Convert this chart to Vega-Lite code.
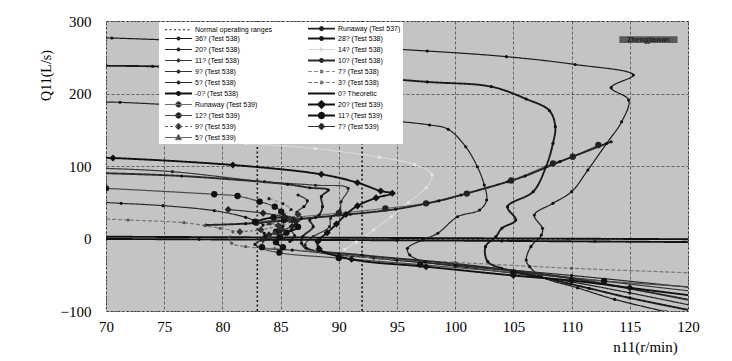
{
  "$schema": "https://vega.github.io/schema/vega-lite/v6.json",
  "width": 582,
  "height": 290,
  "autosize": {"type": "none"},
  "padding": {"left": 106, "top": 21, "right": 44, "bottom": 50},
  "background": "white",
  "config": {
    "view": {"fill": "#c4c4c4", "stroke": "#444", "strokeDash": [2, 2], "strokeWidth": 1},
    "axis": {
      "labelFont": "Liberation Serif", "labelFontSize": 15, "labelColor": "#000",
      "titleFont": "Liberation Serif", "titleFontWeight": "normal", "titleColor": "#000",
      "domain": false, "ticks": false, "grid": true,
      "gridColor": "#333", "gridDash": [3, 2], "gridWidth": 0.8, "gridOpacity": 0.85
    }
  },
  "datasets": {
    "ranges": [
      {"s": "Normal operating ranges", "x": 83},
      {"s": "Normal operating ranges", "x": 92}
    ],
    "label": [
      {"x": 114.1, "x2": 119.1, "y": 269.7, "y2": 279, "tx": 116.6, "ty": 274.3, "t": "Zhengjiawan"}
    ],
    "curves": [
      {"s": "Runaway (Test 537)", "i": 0, "x": 78.6, "y": 18.6},
      {"s": "Runaway (Test 537)", "i": 1, "x": 82, "y": 20.5},
      {"s": "Runaway (Test 537)", "i": 2, "x": 85.5, "y": 25},
      {"s": "Runaway (Test 537)", "i": 3, "x": 88, "y": 29},
      {"s": "Runaway (Test 537)", "i": 4, "x": 91, "y": 33.5},
      {"s": "Runaway (Test 537)", "i": 5, "x": 94.9, "y": 40.5},
      {"s": "Runaway (Test 537)", "i": 6, "x": 98.6, "y": 52},
      {"s": "Runaway (Test 537)", "i": 7, "x": 100.5, "y": 60},
      {"s": "Runaway (Test 537)", "i": 8, "x": 104.5, "y": 78.3},
      {"s": "Runaway (Test 537)", "i": 9, "x": 106, "y": 86.2},
      {"s": "Runaway (Test 537)", "i": 10, "x": 109, "y": 106},
      {"s": "Runaway (Test 537)", "i": 11, "x": 113.4, "y": 133.5},

      {"s": "36? (Test 538)", "i": 0, "x": 69.5, "y": 276.7},
      {"s": "36? (Test 538)", "i": 1, "x": 70.5, "y": 276.5},
      {"s": "36? (Test 538)", "i": 2, "x": 80, "y": 271},
      {"s": "36? (Test 538)", "i": 3, "x": 90, "y": 265},
      {"s": "36? (Test 538)", "i": 4, "x": 97.6, "y": 258.6},
      {"s": "36? (Test 538)", "i": 5, "x": 104.4, "y": 250.8},
      {"s": "36? (Test 538)", "i": 6, "x": 110.3, "y": 240},
      {"s": "36? (Test 538)", "i": 7, "x": 115.3, "y": 225.5},
      {"s": "36? (Test 538)", "i": 8, "x": 113.4, "y": 208},
      {"s": "36? (Test 538)", "i": 9, "x": 114.9, "y": 191},
      {"s": "36? (Test 538)", "i": 10, "x": 114.3, "y": 161},
      {"s": "36? (Test 538)", "i": 11, "x": 113, "y": 131},
      {"s": "36? (Test 538)", "i": 12, "x": 111.4, "y": 94.5},
      {"s": "36? (Test 538)", "i": 13, "x": 110, "y": 64.6},
      {"s": "36? (Test 538)", "i": 14, "x": 108.4, "y": 48.5},
      {"s": "36? (Test 538)", "i": 15, "x": 106.8, "y": 32.4},
      {"s": "36? (Test 538)", "i": 16, "x": 107.5, "y": 14},
      {"s": "36? (Test 538)", "i": 17, "x": 107.4, "y": 4.8},
      {"s": "36? (Test 538)", "i": 18, "x": 106.5, "y": -11.3},
      {"s": "36? (Test 538)", "i": 19, "x": 106.1, "y": -29.7},
      {"s": "36? (Test 538)", "i": 20, "x": 106.4, "y": -38.9},
      {"s": "36? (Test 538)", "i": 21, "x": 107.4, "y": -52.7},
      {"s": "36? (Test 538)", "i": 22, "x": 110.5, "y": -68},
      {"s": "36? (Test 538)", "i": 23, "x": 113.7, "y": -84},
      {"s": "36? (Test 538)", "i": 24, "x": 118.1, "y": -101},

      {"s": "28? (Test 538)", "i": 0, "x": 69.5, "y": 238.2},
      {"s": "28? (Test 538)", "i": 1, "x": 74, "y": 237.5},
      {"s": "28? (Test 538)", "i": 2, "x": 85, "y": 231},
      {"s": "28? (Test 538)", "i": 3, "x": 97.6, "y": 216},
      {"s": "28? (Test 538)", "i": 4, "x": 103.1, "y": 209.4},
      {"s": "28? (Test 538)", "i": 5, "x": 106.1, "y": 192.4},
      {"s": "28? (Test 538)", "i": 6, "x": 108.1, "y": 176.3},
      {"s": "28? (Test 538)", "i": 7, "x": 108.6, "y": 154.2},
      {"s": "28? (Test 538)", "i": 8, "x": 108.4, "y": 131.3},
      {"s": "28? (Test 538)", "i": 9, "x": 107.8, "y": 99},
      {"s": "28? (Test 538)", "i": 10, "x": 106.7, "y": 64.6},
      {"s": "28? (Test 538)", "i": 11, "x": 104.5, "y": 43.9},
      {"s": "28? (Test 538)", "i": 12, "x": 105.2, "y": 25.5},
      {"s": "28? (Test 538)", "i": 13, "x": 104, "y": 14},
      {"s": "28? (Test 538)", "i": 14, "x": 103.5, "y": 2.5},
      {"s": "28? (Test 538)", "i": 15, "x": 102.6, "y": -11.3},
      {"s": "28? (Test 538)", "i": 16, "x": 102.8, "y": -32},
      {"s": "28? (Test 538)", "i": 17, "x": 104, "y": -41},
      {"s": "28? (Test 538)", "i": 18, "x": 107.2, "y": -52.7},
      {"s": "28? (Test 538)", "i": 19, "x": 111.5, "y": -68.7},
      {"s": "28? (Test 538)", "i": 20, "x": 115, "y": -82},
      {"s": "28? (Test 538)", "i": 21, "x": 120.5, "y": -100},

      {"s": "20? (Test 538)", "i": 0, "x": 69.5, "y": 188.2},
      {"s": "20? (Test 538)", "i": 1, "x": 71.2, "y": 187.8},
      {"s": "20? (Test 538)", "i": 2, "x": 80, "y": 180},
      {"s": "20? (Test 538)", "i": 3, "x": 90, "y": 168},
      {"s": "20? (Test 538)", "i": 4, "x": 97.8, "y": 156.6},
      {"s": "20? (Test 538)", "i": 5, "x": 99.4, "y": 150.6},
      {"s": "20? (Test 538)", "i": 6, "x": 100.9, "y": 126.6},
      {"s": "20? (Test 538)", "i": 7, "x": 101.9, "y": 99},
      {"s": "20? (Test 538)", "i": 8, "x": 102.5, "y": 73.8},
      {"s": "20? (Test 538)", "i": 9, "x": 102.7, "y": 53.1},
      {"s": "20? (Test 538)", "i": 10, "x": 102.1, "y": 39.3},
      {"s": "20? (Test 538)", "i": 11, "x": 100.2, "y": 30},
      {"s": "20? (Test 538)", "i": 12, "x": 98.5, "y": 7.2},
      {"s": "20? (Test 538)", "i": 13, "x": 97.2, "y": -2},
      {"s": "20? (Test 538)", "i": 14, "x": 95.9, "y": -13.5},
      {"s": "20? (Test 538)", "i": 15, "x": 96.1, "y": -22.8},
      {"s": "20? (Test 538)", "i": 16, "x": 97.4, "y": -32},
      {"s": "20? (Test 538)", "i": 17, "x": 100, "y": -38},
      {"s": "20? (Test 538)", "i": 18, "x": 105, "y": -48},
      {"s": "20? (Test 538)", "i": 19, "x": 110, "y": -60},
      {"s": "20? (Test 538)", "i": 20, "x": 115, "y": -75},
      {"s": "20? (Test 538)", "i": 21, "x": 120.5, "y": -93},

      {"s": "14? (Test 538)", "i": 0, "x": 75, "y": 137},
      {"s": "14? (Test 538)", "i": 1, "x": 82, "y": 131},
      {"s": "14? (Test 538)", "i": 2, "x": 88, "y": 124},
      {"s": "14? (Test 538)", "i": 3, "x": 93.5, "y": 112},
      {"s": "14? (Test 538)", "i": 4, "x": 96.5, "y": 102},
      {"s": "14? (Test 538)", "i": 5, "x": 98, "y": 88},
      {"s": "14? (Test 538)", "i": 6, "x": 97.5, "y": 70},
      {"s": "14? (Test 538)", "i": 7, "x": 96, "y": 50},
      {"s": "14? (Test 538)", "i": 8, "x": 94.5, "y": 30},
      {"s": "14? (Test 538)", "i": 9, "x": 93, "y": 12},
      {"s": "14? (Test 538)", "i": 10, "x": 91.5, "y": -5},
      {"s": "14? (Test 538)", "i": 11, "x": 90.5, "y": -15},

      {"s": "11? (Test 538)", "i": 0, "x": 69.5, "y": 97},
      {"s": "11? (Test 538)", "i": 1, "x": 75.7, "y": 92.2},
      {"s": "11? (Test 538)", "i": 2, "x": 83.6, "y": 78.4},
      {"s": "11? (Test 538)", "i": 3, "x": 88, "y": 73.5},
      {"s": "11? (Test 538)", "i": 4, "x": 90.8, "y": 69.2},
      {"s": "11? (Test 538)", "i": 5, "x": 90.2, "y": 50.8},
      {"s": "11? (Test 538)", "i": 6, "x": 90.1, "y": 39.3},
      {"s": "11? (Test 538)", "i": 7, "x": 89.3, "y": 27.9},
      {"s": "11? (Test 538)", "i": 8, "x": 89.2, "y": 16.3},
      {"s": "11? (Test 538)", "i": 9, "x": 87.8, "y": 2.5},
      {"s": "11? (Test 538)", "i": 10, "x": 87.1, "y": -9},
      {"s": "11? (Test 538)", "i": 11, "x": 88.1, "y": -18.2},
      {"s": "11? (Test 538)", "i": 12, "x": 93, "y": -27},
      {"s": "11? (Test 538)", "i": 13, "x": 100, "y": -37},
      {"s": "11? (Test 538)", "i": 14, "x": 110, "y": -54},
      {"s": "11? (Test 538)", "i": 15, "x": 120.5, "y": -73},

      {"s": "10? (Test 538)", "i": 0, "x": 69.5, "y": 90.2},
      {"s": "10? (Test 538)", "i": 1, "x": 76.5, "y": 86.2},
      {"s": "10? (Test 538)", "i": 2, "x": 85.6, "y": 74.7},
      {"s": "10? (Test 538)", "i": 3, "x": 87.5, "y": 70},
      {"s": "10? (Test 538)", "i": 4, "x": 89.1, "y": 66.9},
      {"s": "10? (Test 538)", "i": 5, "x": 88.5, "y": 57.7},
      {"s": "10? (Test 538)", "i": 6, "x": 88.6, "y": 43.9},
      {"s": "10? (Test 538)", "i": 7, "x": 88.3, "y": 32.4},
      {"s": "10? (Test 538)", "i": 8, "x": 87.5, "y": 25.5},
      {"s": "10? (Test 538)", "i": 9, "x": 87.8, "y": 16.3},
      {"s": "10? (Test 538)", "i": 10, "x": 86.9, "y": 2.5},
      {"s": "10? (Test 538)", "i": 11, "x": 86.8, "y": -6.6},
      {"s": "10? (Test 538)", "i": 12, "x": 87.2, "y": -13.5},
      {"s": "10? (Test 538)", "i": 13, "x": 92, "y": -23},
      {"s": "10? (Test 538)", "i": 14, "x": 100, "y": -35},
      {"s": "10? (Test 538)", "i": 15, "x": 110, "y": -55},
      {"s": "10? (Test 538)", "i": 16, "x": 120.5, "y": -86},

      {"s": "9? (Test 538)", "i": 0, "x": 86.5, "y": 60},
      {"s": "9? (Test 538)", "i": 1, "x": 87.3, "y": 52},
      {"s": "9? (Test 538)", "i": 2, "x": 87, "y": 44},
      {"s": "9? (Test 538)", "i": 3, "x": 86.4, "y": 36},
      {"s": "9? (Test 538)", "i": 4, "x": 86.8, "y": 28},
      {"s": "9? (Test 538)", "i": 5, "x": 86.3, "y": 20},
      {"s": "9? (Test 538)", "i": 6, "x": 85.9, "y": 12},
      {"s": "9? (Test 538)", "i": 7, "x": 86.2, "y": 4},
      {"s": "9? (Test 538)", "i": 8, "x": 85.8, "y": -4},

      {"s": "7? (Test 538)", "i": 0, "x": 84, "y": 55},
      {"s": "7? (Test 538)", "i": 1, "x": 85.2, "y": 48},
      {"s": "7? (Test 538)", "i": 2, "x": 85.9, "y": 40},
      {"s": "7? (Test 538)", "i": 3, "x": 85.3, "y": 33},
      {"s": "7? (Test 538)", "i": 4, "x": 85.8, "y": 24},
      {"s": "7? (Test 538)", "i": 5, "x": 85.2, "y": 17},
      {"s": "7? (Test 538)", "i": 6, "x": 84.8, "y": 8},
      {"s": "7? (Test 538)", "i": 7, "x": 85.2, "y": 0},

      {"s": "5? (Test 538)", "i": 0, "x": 69.5, "y": 50},
      {"s": "5? (Test 538)", "i": 1, "x": 71.3, "y": 48.5},
      {"s": "5? (Test 538)", "i": 2, "x": 74.9, "y": 45.3},
      {"s": "5? (Test 538)", "i": 3, "x": 79.3, "y": 38.4},
      {"s": "5? (Test 538)", "i": 4, "x": 82, "y": 29.2},
      {"s": "5? (Test 538)", "i": 5, "x": 82.9, "y": 23.2},
      {"s": "5? (Test 538)", "i": 6, "x": 83.5, "y": 18.6},
      {"s": "5? (Test 538)", "i": 7, "x": 83.2, "y": 11.7},
      {"s": "5? (Test 538)", "i": 8, "x": 83.6, "y": 7.1},
      {"s": "5? (Test 538)", "i": 9, "x": 83.3, "y": -2},
      {"s": "5? (Test 538)", "i": 10, "x": 82.8, "y": -8},
      {"s": "5? (Test 538)", "i": 11, "x": 83.5, "y": -13},
      {"s": "5? (Test 538)", "i": 12, "x": 86, "y": -16},
      {"s": "5? (Test 538)", "i": 13, "x": 90, "y": -22},
      {"s": "5? (Test 538)", "i": 14, "x": 95, "y": -30},
      {"s": "5? (Test 538)", "i": 15, "x": 100, "y": -37},
      {"s": "5? (Test 538)", "i": 16, "x": 110, "y": -51},
      {"s": "5? (Test 538)", "i": 17, "x": 120.5, "y": -68},

      {"s": "3? (Test 538)", "i": 0, "x": 69.5, "y": 27.2},
      {"s": "3? (Test 538)", "i": 1, "x": 71.9, "y": 25.5},
      {"s": "3? (Test 538)", "i": 2, "x": 76.7, "y": 21.8},
      {"s": "3? (Test 538)", "i": 3, "x": 78.5, "y": 17.7},
      {"s": "3? (Test 538)", "i": 4, "x": 79.8, "y": 14},
      {"s": "3? (Test 538)", "i": 5, "x": 80.9, "y": 9.4},
      {"s": "3? (Test 538)", "i": 6, "x": 80.6, "y": 0.3},
      {"s": "3? (Test 538)", "i": 7, "x": 80.8, "y": -6.6},
      {"s": "3? (Test 538)", "i": 8, "x": 82, "y": -11.3},
      {"s": "3? (Test 538)", "i": 9, "x": 84.5, "y": -14},
      {"s": "3? (Test 538)", "i": 10, "x": 88, "y": -18},
      {"s": "3? (Test 538)", "i": 11, "x": 93.5, "y": -27.4},
      {"s": "3? (Test 538)", "i": 12, "x": 100, "y": -33},
      {"s": "3? (Test 538)", "i": 13, "x": 110, "y": -41},
      {"s": "3? (Test 538)", "i": 14, "x": 120.5, "y": -47.5},

      {"s": "-0? (Test 538)", "i": 0, "x": 69.5, "y": -0.6},
      {"s": "-0? (Test 538)", "i": 1, "x": 78, "y": -1.2},
      {"s": "-0? (Test 538)", "i": 2, "x": 86, "y": -1.8},
      {"s": "-0? (Test 538)", "i": 3, "x": 95, "y": -2.5},
      {"s": "-0? (Test 538)", "i": 4, "x": 104, "y": -3.3},
      {"s": "-0? (Test 538)", "i": 5, "x": 112, "y": -4.1},
      {"s": "-0? (Test 538)", "i": 6, "x": 120.5, "y": -5},

      {"s": "0? Theoretic", "i": 0, "x": 69.5, "y": 2.5},
      {"s": "0? Theoretic", "i": 1, "x": 120.5, "y": -1},

      {"s": "Runaway (Test 539)", "i": 0, "x": 82.9, "y": 21.8},
      {"s": "Runaway (Test 539)", "i": 1, "x": 85.5, "y": 27.8},
      {"s": "Runaway (Test 539)", "i": 2, "x": 90, "y": 35},
      {"s": "Runaway (Test 539)", "i": 3, "x": 94, "y": 41.5},
      {"s": "Runaway (Test 539)", "i": 4, "x": 97.5, "y": 48.5},
      {"s": "Runaway (Test 539)", "i": 5, "x": 101, "y": 62},
      {"s": "Runaway (Test 539)", "i": 6, "x": 104.8, "y": 80},
      {"s": "Runaway (Test 539)", "i": 7, "x": 108.4, "y": 103.7},
      {"s": "Runaway (Test 539)", "i": 8, "x": 110.1, "y": 112.8},
      {"s": "Runaway (Test 539)", "i": 9, "x": 112.3, "y": 129},

      {"s": "20? (Test 539)", "i": 0, "x": 69.5, "y": 111.2},
      {"s": "20? (Test 539)", "i": 1, "x": 70.6, "y": 111},
      {"s": "20? (Test 539)", "i": 2, "x": 80.9, "y": 101.4},
      {"s": "20? (Test 539)", "i": 3, "x": 88.5, "y": 88.5},
      {"s": "20? (Test 539)", "i": 4, "x": 91.6, "y": 77},
      {"s": "20? (Test 539)", "i": 5, "x": 93.6, "y": 65.5},
      {"s": "20? (Test 539)", "i": 6, "x": 94.6, "y": 62.3},
      {"s": "20? (Test 539)", "i": 7, "x": 93.2, "y": 56},
      {"s": "20? (Test 539)", "i": 8, "x": 91.6, "y": 45},
      {"s": "20? (Test 539)", "i": 9, "x": 90.6, "y": 33},
      {"s": "20? (Test 539)", "i": 10, "x": 89.8, "y": 20},
      {"s": "20? (Test 539)", "i": 11, "x": 89, "y": 8},
      {"s": "20? (Test 539)", "i": 12, "x": 88.2, "y": -4},
      {"s": "20? (Test 539)", "i": 13, "x": 88.3, "y": -14},
      {"s": "20? (Test 539)", "i": 14, "x": 91.1, "y": -28.7},
      {"s": "20? (Test 539)", "i": 15, "x": 97.5, "y": -38.9},
      {"s": "20? (Test 539)", "i": 16, "x": 105, "y": -51},
      {"s": "20? (Test 539)", "i": 17, "x": 110, "y": -58},
      {"s": "20? (Test 539)", "i": 18, "x": 115, "y": -68},
      {"s": "20? (Test 539)", "i": 19, "x": 120.5, "y": -79},

      {"s": "12? (Test 539)", "i": 0, "x": 70, "y": 69.2},
      {"s": "12? (Test 539)", "i": 1, "x": 79.3, "y": 61},
      {"s": "12? (Test 539)", "i": 2, "x": 81.3, "y": 58.6},
      {"s": "12? (Test 539)", "i": 3, "x": 83.2, "y": 50.8},
      {"s": "12? (Test 539)", "i": 4, "x": 84.5, "y": 43.9},
      {"s": "12? (Test 539)", "i": 5, "x": 85.05, "y": 37},
      {"s": "12? (Test 539)", "i": 6, "x": 85.3, "y": 25.5},
      {"s": "12? (Test 539)", "i": 7, "x": 85, "y": 14},
      {"s": "12? (Test 539)", "i": 8, "x": 84.6, "y": 9.4},
      {"s": "12? (Test 539)", "i": 9, "x": 83.8, "y": 1.7},
      {"s": "12? (Test 539)", "i": 10, "x": 83.4, "y": -12},
      {"s": "12? (Test 539)", "i": 11, "x": 84.9, "y": -19.6},
      {"s": "12? (Test 539)", "i": 12, "x": 90, "y": -27},
      {"s": "12? (Test 539)", "i": 13, "x": 97, "y": -36},
      {"s": "12? (Test 539)", "i": 14, "x": 105, "y": -47},
      {"s": "12? (Test 539)", "i": 15, "x": 112.8, "y": -58.6},
      {"s": "12? (Test 539)", "i": 16, "x": 120.5, "y": -67},

      {"s": "11? (Test 539)", "i": 0, "x": 82.8, "y": 23.2},
      {"s": "11? (Test 539)", "i": 1, "x": 84.4, "y": 29},
      {"s": "11? (Test 539)", "i": 2, "x": 86, "y": 26},
      {"s": "11? (Test 539)", "i": 3, "x": 86.5, "y": 16},
      {"s": "11? (Test 539)", "i": 4, "x": 85.5, "y": 8},
      {"s": "11? (Test 539)", "i": 5, "x": 84.9, "y": 2},
      {"s": "11? (Test 539)", "i": 6, "x": 84.6, "y": -5},
      {"s": "11? (Test 539)", "i": 7, "x": 85.2, "y": -12},

      {"s": "9? (Test 539)", "i": 0, "x": 81.5, "y": 9.4},
      {"s": "9? (Test 539)", "i": 1, "x": 83.3, "y": 12},
      {"s": "9? (Test 539)", "i": 2, "x": 84.8, "y": 18},
      {"s": "9? (Test 539)", "i": 3, "x": 85.8, "y": 27},
      {"s": "9? (Test 539)", "i": 4, "x": 86.5, "y": 33},

      {"s": "7? (Test 539)", "i": 0, "x": 80.5, "y": 40},
      {"s": "7? (Test 539)", "i": 1, "x": 83.5, "y": 35},
      {"s": "7? (Test 539)", "i": 2, "x": 85.3, "y": 30},
      {"s": "7? (Test 539)", "i": 3, "x": 86.3, "y": 24},
      {"s": "7? (Test 539)", "i": 4, "x": 86, "y": 17},
      {"s": "7? (Test 539)", "i": 5, "x": 85, "y": 11},
      {"s": "7? (Test 539)", "i": 6, "x": 84, "y": 5},
      {"s": "7? (Test 539)", "i": 7, "x": 83.5, "y": -1},

      {"s": "5? (Test 539)", "i": 0, "x": 84, "y": 22},
      {"s": "5? (Test 539)", "i": 1, "x": 85, "y": 15},
      {"s": "5? (Test 539)", "i": 2, "x": 84.5, "y": 9},
      {"s": "5? (Test 539)", "i": 3, "x": 84, "y": 3}
    ]
  },
  "layer": [
    {
      "data": {"name": "ranges"},
      "mark": {"type": "rule", "strokeWidth": 1.6},
      "encoding": {
        "x": {"field": "x", "type": "quantitative", "scale": {"domain": [70, 120], "nice": false, "zero": false},
          "axis": {"values": [70, 75, 80, 85, 90, 95, 100, 105, 110, 115, 120], "title": "n11(r/min)", "titleFontSize": 15,
            "titleX": 539, "titleY": 35, "titleAlign": "center", "titleBaseline": "middle", "labelPadding": 8, "labelFlush": false, "labelOverlap": false}},
        "color": {"field": "s", "type": "nominal",
          "scale": {
            "domain": ["Normal operating ranges","36? (Test 538)","20? (Test 538)","11? (Test 538)","9? (Test 538)","5? (Test 538)","-0? (Test 538)","Runaway (Test 539)","12? (Test 539)","9? (Test 539)","5? (Test 539)","Runaway (Test 537)","28? (Test 538)","14? (Test 538)","10? (Test 538)","7? (Test 538)","3? (Test 538)","0? Theoretic","20? (Test 539)","11? (Test 539)","7? (Test 539)"],
            "range": ["#1a1a1a","#1a1a1a","#222222","#3a3a3a","#333333","#2a2a2a","#111111","#6e6e6e","#4a4a4a","#666666","#666666","#222222","#1a1a1a","#d8d8d8","#2a2a2a","#8a8a8a","#777777","#111111","#111111","#111111","#333333"]
          },
          "legend": {
            "title": null, "orient": "none", "legendX": 53, "legendY": 1, "columns": 2, "gridAlign": "all",
            "rowPadding": -7, "columnPadding": 31, "padding": 2,
            "fillColor": "white",
            "labelFont": "Liberation Sans", "labelFontSize": 7, "labelColor": "#000", "labelOffset": 27, "labelLimit": 200,
            "symbolSize": 16, "symbolOpacity": 1,
            "symbolType": {"expr": "indexof(['Normal operating ranges','0? Theoretic'], datum.value) >= 0 ? 'M0.25,0H13.75' : indexof(['Runaway (Test 539)','12? (Test 539)','11? (Test 539)'], datum.value) >= 0 ? 'M0.25,0H13.75M8.4,0A1.4,1.4,0,1,1,5.6,0A1.4,1.4,0,1,1,8.4,0Z' : indexof(['20? (Test 539)','9? (Test 539)','7? (Test 539)'], datum.value) >= 0 ? 'M0.25,0H13.75M7,-1.7L8.7,0L7,1.7L5.3,0Z' : datum.value == '5? (Test 539)' ? 'M0.25,0H13.75M7,-1.6L8.5,1.1L5.5,1.1Z' : 'M0.25,0H13.75M7.8,0A0.8,0.8,0,1,1,6.2,0A0.8,0.8,0,1,1,7.8,0Z'"},
            "symbolFillColor": {"expr": "datum.value == '14? (Test 538)' ? '#dddddd' : indexof(['3? (Test 538)','9? (Test 539)','5? (Test 539)'], datum.value) >= 0 ? '#444444' : '#111111'"},
            "symbolDash": {"expr": "datum.value == 'Normal operating ranges' ? [2,1.5] : indexof(['7? (Test 538)','3? (Test 538)','14? (Test 538)','9? (Test 539)'], datum.value) >= 0 ? [3,1.5] : [1,0]"},
            "symbolStrokeWidth": {"expr": "indexof(['Runaway (Test 537)','28? (Test 538)','10? (Test 538)','-0? (Test 538)','0? Theoretic','20? (Test 539)','11? (Test 539)'], datum.value) >= 0 ? 1.8 : 1"}
          }
        },
        "strokeDash": {"field": "s", "type": "nominal", "legend": null,
          "scale": {
            "domain": ["Normal operating ranges","36? (Test 538)","20? (Test 538)","11? (Test 538)","9? (Test 538)","5? (Test 538)","-0? (Test 538)","Runaway (Test 539)","12? (Test 539)","9? (Test 539)","5? (Test 539)","Runaway (Test 537)","28? (Test 538)","14? (Test 538)","10? (Test 538)","7? (Test 538)","3? (Test 538)","0? Theoretic","20? (Test 539)","11? (Test 539)","7? (Test 539)"],
            "range": [[2,2.5],[1,0],[1,0],[1,0],[1,0],[1,0],[1,0],[1,0],[1,0],[3,2],[1,0],[1,0],[1,0],[1,0],[1,0],[4,2],[4,2],[1,0],[1,0],[1,0],[1,0]]
          }
        }
      }
    },
    {
      "data": {"name": "curves"},
      "transform": [{"filter": {"not": {"field": "s", "oneOf": ["Runaway (Test 537)","28? (Test 538)","10? (Test 538)","-0? (Test 538)","0? Theoretic","20? (Test 539)","11? (Test 539)"]}}}],
      "mark": {"type": "line", "strokeWidth": 1.2, "interpolate": "catmull-rom", "clip": true},
      "encoding": {
        "x": {"field": "x", "type": "quantitative"},
        "y": {"field": "y", "type": "quantitative", "scale": {"domain": [-100, 300], "nice": false, "zero": false},
          "axis": {"values": [-100, -50, 0, 50, 100, 150, 200, 250, 300], "title": "Q11(L/s)", "titleFontSize": 14,
            "titleX": -60, "titleY": 54, "titleAngle": -90, "titleAlign": "center", "titleBaseline": "middle", "labelPadding": 15, "labelOverlap": false}},
        "color": {"field": "s", "type": "nominal"},
        "strokeDash": {"field": "s", "type": "nominal", "legend": null},
        "detail": {"field": "s"},
        "order": {"field": "i", "type": "quantitative"}
      }
    },
    {
      "data": {"name": "curves"},
      "transform": [{"filter": {"field": "s", "oneOf": ["Runaway (Test 537)","28? (Test 538)","10? (Test 538)","-0? (Test 538)","0? Theoretic","20? (Test 539)","11? (Test 539)"]}}],
      "mark": {"type": "line", "strokeWidth": 1.9, "interpolate": "catmull-rom", "clip": true},
      "encoding": {
        "x": {"field": "x", "type": "quantitative"},
        "y": {"field": "y", "type": "quantitative"},
        "color": {"field": "s", "type": "nominal"},
        "strokeDash": {"field": "s", "type": "nominal", "legend": null},
        "detail": {"field": "s"},
        "order": {"field": "i", "type": "quantitative"}
      }
    },
    {
      "data": {"name": "curves"},
      "transform": [{"filter": {"field": "s", "oneOf": ["Runaway (Test 537)","36? (Test 538)","28? (Test 538)","20? (Test 538)","14? (Test 538)","11? (Test 538)","10? (Test 538)","9? (Test 538)","7? (Test 538)","5? (Test 538)","3? (Test 538)","-0? (Test 538)"]}}],
      "mark": {"type": "point", "filled": true, "opacity": 1, "size": 10, "shape": "circle", "clip": true},
      "encoding": {
        "x": {"field": "x", "type": "quantitative"},
        "y": {"field": "y", "type": "quantitative"},
        "fill": {"field": "s", "type": "nominal", "legend": null,
          "scale": {
            "domain": ["Normal operating ranges","36? (Test 538)","20? (Test 538)","11? (Test 538)","9? (Test 538)","5? (Test 538)","-0? (Test 538)","Runaway (Test 539)","12? (Test 539)","9? (Test 539)","5? (Test 539)","Runaway (Test 537)","28? (Test 538)","14? (Test 538)","10? (Test 538)","7? (Test 538)","3? (Test 538)","0? Theoretic","20? (Test 539)","11? (Test 539)","7? (Test 539)"],
            "range": ["#111111","#111111","#111111","#222222","#111111","#111111","#111111","#222222","#111111","#333333","#333333","#111111","#111111","#e6e6e6","#111111","#222222","#555555","#111111","#111111","#111111","#222222"]
          }
        }
      }
    },
    {
      "data": {"name": "curves"},
      "transform": [{"filter": {"field": "s", "oneOf": ["Runaway (Test 539)","12? (Test 539)","11? (Test 539)"]}}],
      "mark": {"type": "point", "filled": true, "opacity": 1, "size": 40, "shape": "circle", "clip": true},
      "encoding": {
        "x": {"field": "x", "type": "quantitative"},
        "y": {"field": "y", "type": "quantitative"},
        "fill": {"field": "s", "type": "nominal", "legend": null}
      }
    },
    {
      "data": {"name": "curves"},
      "transform": [{"filter": {"field": "s", "oneOf": ["20? (Test 539)","9? (Test 539)","7? (Test 539)"]}}],
      "mark": {"type": "point", "filled": true, "opacity": 1, "size": 50, "shape": "diamond", "clip": true},
      "encoding": {
        "x": {"field": "x", "type": "quantitative"},
        "y": {"field": "y", "type": "quantitative"},
        "fill": {"field": "s", "type": "nominal", "legend": null}
      }
    },
    {
      "data": {"name": "curves"},
      "transform": [{"filter": {"field": "s", "oneOf": ["5? (Test 539)"]}}],
      "mark": {"type": "point", "filled": true, "opacity": 1, "size": 40, "shape": "triangle-up", "clip": true},
      "encoding": {
        "x": {"field": "x", "type": "quantitative"},
        "y": {"field": "y", "type": "quantitative"},
        "fill": {"field": "s", "type": "nominal", "legend": null}
      }
    },
    {
      "data": {"name": "label"},
      "mark": {"type": "rect", "color": "#5a5a5a"},
      "encoding": {
        "x": {"field": "x", "type": "quantitative"},
        "x2": {"field": "x2"},
        "y": {"field": "y", "type": "quantitative"},
        "y2": {"field": "y2"}
      }
    },
    {
      "data": {"name": "label"},
      "mark": {"type": "text", "font": "Liberation Sans", "fontSize": 7, "fontWeight": "bold", "color": "#1a1a1a", "align": "center", "baseline": "middle"},
      "encoding": {
        "x": {"field": "tx", "type": "quantitative"},
        "y": {"field": "ty", "type": "quantitative"},
        "text": {"field": "t"}
      }
    }
  ]
}
